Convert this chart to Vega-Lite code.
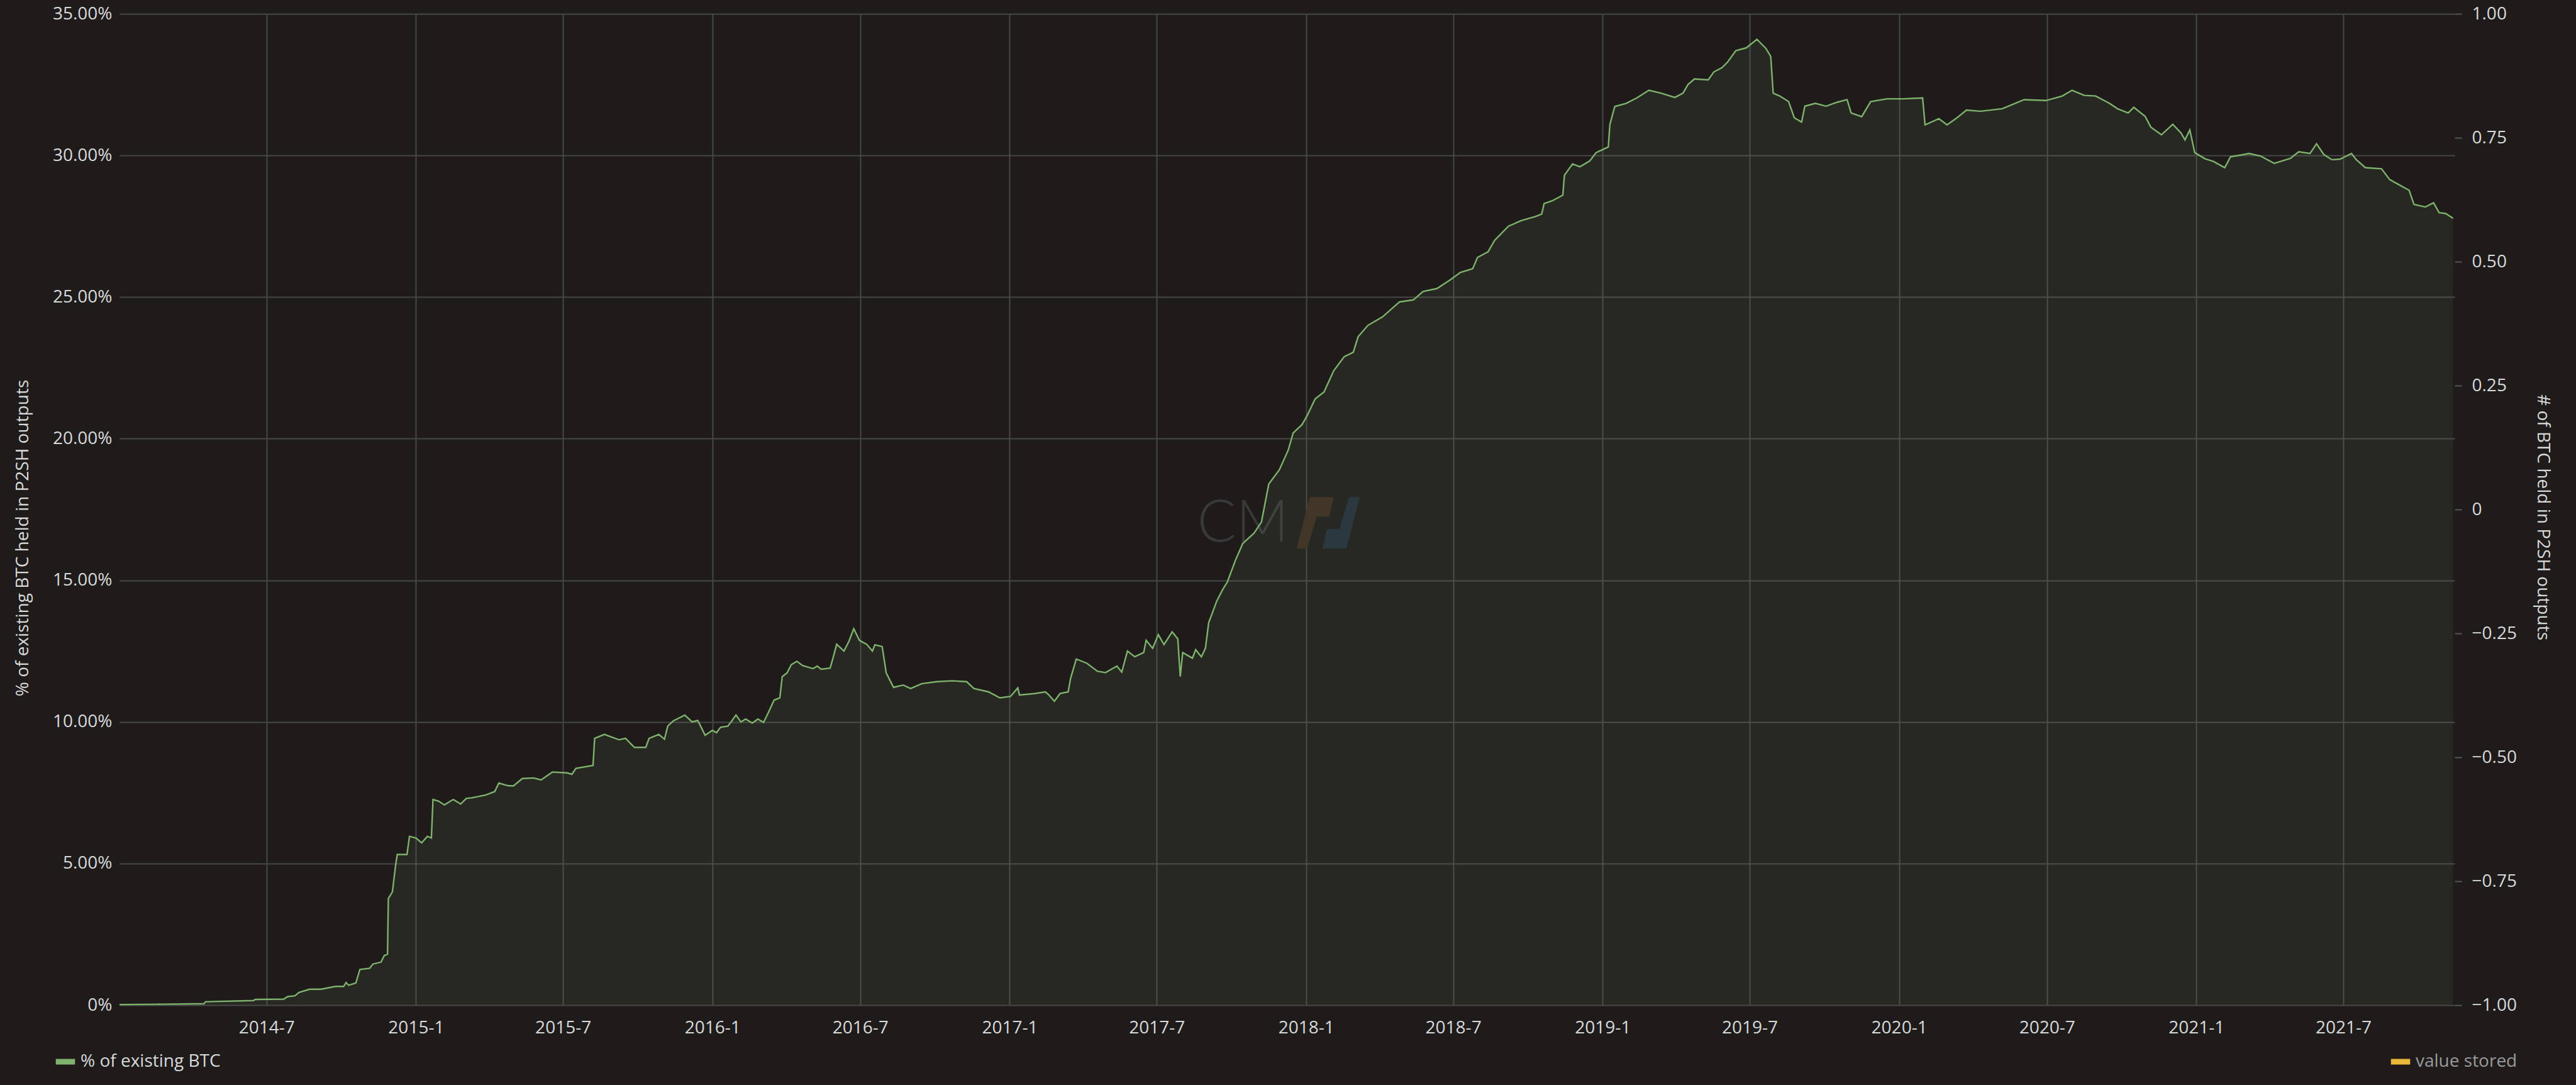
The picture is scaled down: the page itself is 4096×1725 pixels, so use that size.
{
  "$schema": "https://vega.github.io/schema/vega-lite/v6.json",
  "autosize": "none",
  "width": 3713,
  "height": 1576,
  "padding": {"left": 190, "top": 22, "right": 193, "bottom": 127},
  "background": "#1f1b1b",
  "config": {
    "font": "Open Sans",
    "view": {"stroke": null},
    "axis": {"labelFont": "Open Sans", "titleFont": "Open Sans", "labelColor": "#d8d9da", "titleColor": "#d8d9da", "titleFontWeight": "normal", "labelFontSize": 28, "titleFontSize": 28, "gridColor": "#474747", "gridWidth": 2},
    "legend": {"labelFont": "Open Sans", "labelFontSize": 28, "padding": 0, "labelLimit": 0}
  },
  "datasets": {
    "p2sh": [
      {"date": "2014-01-01", "pct": 0.02}, {"date": "2014-02-15", "pct": 0.03}, {"date": "2014-04-15", "pct": 0.05}, {"date": "2014-04-17", "pct": 0.12},
      {"date": "2014-06-15", "pct": 0.16}, {"date": "2014-06-17", "pct": 0.2}, {"date": "2014-07-22", "pct": 0.21}, {"date": "2014-07-27", "pct": 0.3},
      {"date": "2014-08-05", "pct": 0.33}, {"date": "2014-08-10", "pct": 0.45}, {"date": "2014-08-23", "pct": 0.56}, {"date": "2014-09-06", "pct": 0.56},
      {"date": "2014-09-24", "pct": 0.66}, {"date": "2014-10-04", "pct": 0.66}, {"date": "2014-10-07", "pct": 0.8}, {"date": "2014-10-10", "pct": 0.7},
      {"date": "2014-10-19", "pct": 0.78}, {"date": "2014-10-24", "pct": 1.26}, {"date": "2014-11-05", "pct": 1.3}, {"date": "2014-11-09", "pct": 1.45},
      {"date": "2014-11-19", "pct": 1.52}, {"date": "2014-11-23", "pct": 1.75}, {"date": "2014-11-27", "pct": 1.8}, {"date": "2014-11-28", "pct": 3.76},
      {"date": "2014-12-03", "pct": 4.0}, {"date": "2014-12-07", "pct": 4.95}, {"date": "2014-12-09", "pct": 5.32}, {"date": "2014-12-21", "pct": 5.32},
      {"date": "2014-12-24", "pct": 5.96}, {"date": "2015-01-01", "pct": 5.9}, {"date": "2015-01-08", "pct": 5.73}, {"date": "2015-01-15", "pct": 5.96},
      {"date": "2015-01-20", "pct": 5.9}, {"date": "2015-01-22", "pct": 7.26}, {"date": "2015-01-29", "pct": 7.2}, {"date": "2015-02-05", "pct": 7.07},
      {"date": "2015-02-16", "pct": 7.26}, {"date": "2015-02-25", "pct": 7.1}, {"date": "2015-03-04", "pct": 7.3}, {"date": "2015-03-11", "pct": 7.32},
      {"date": "2015-03-28", "pct": 7.42}, {"date": "2015-04-08", "pct": 7.54}, {"date": "2015-04-13", "pct": 7.84}, {"date": "2015-04-24", "pct": 7.75},
      {"date": "2015-05-01", "pct": 7.74}, {"date": "2015-05-12", "pct": 8.0}, {"date": "2015-05-26", "pct": 8.02}, {"date": "2015-06-04", "pct": 7.95},
      {"date": "2015-06-18", "pct": 8.23}, {"date": "2015-07-06", "pct": 8.2}, {"date": "2015-07-12", "pct": 8.15}, {"date": "2015-07-17", "pct": 8.36},
      {"date": "2015-08-07", "pct": 8.46}, {"date": "2015-08-09", "pct": 9.42}, {"date": "2015-08-21", "pct": 9.56}, {"date": "2015-09-08", "pct": 9.37},
      {"date": "2015-09-16", "pct": 9.42}, {"date": "2015-09-27", "pct": 9.1}, {"date": "2015-10-11", "pct": 9.1}, {"date": "2015-10-15", "pct": 9.42},
      {"date": "2015-10-27", "pct": 9.56}, {"date": "2015-11-03", "pct": 9.39}, {"date": "2015-11-07", "pct": 9.85}, {"date": "2015-11-14", "pct": 10.04},
      {"date": "2015-11-28", "pct": 10.24}, {"date": "2015-12-07", "pct": 10.0}, {"date": "2015-12-14", "pct": 10.05}, {"date": "2015-12-23", "pct": 9.53},
      {"date": "2016-01-01", "pct": 9.7}, {"date": "2016-01-06", "pct": 9.62}, {"date": "2016-01-11", "pct": 9.81}, {"date": "2016-01-20", "pct": 9.85},
      {"date": "2016-01-24", "pct": 10.0}, {"date": "2016-01-30", "pct": 10.24}, {"date": "2016-02-05", "pct": 10.0}, {"date": "2016-02-11", "pct": 10.1},
      {"date": "2016-02-19", "pct": 9.96}, {"date": "2016-02-26", "pct": 10.1}, {"date": "2016-03-04", "pct": 9.98}, {"date": "2016-03-10", "pct": 10.34},
      {"date": "2016-03-17", "pct": 10.77}, {"date": "2016-03-24", "pct": 10.85}, {"date": "2016-03-27", "pct": 11.6}, {"date": "2016-04-02", "pct": 11.73},
      {"date": "2016-04-07", "pct": 12.02}, {"date": "2016-04-14", "pct": 12.14}, {"date": "2016-04-21", "pct": 11.99}, {"date": "2016-05-04", "pct": 11.88},
      {"date": "2016-05-09", "pct": 11.97}, {"date": "2016-05-14", "pct": 11.86}, {"date": "2016-05-25", "pct": 11.9}, {"date": "2016-05-29", "pct": 12.31},
      {"date": "2016-06-02", "pct": 12.74}, {"date": "2016-06-11", "pct": 12.5}, {"date": "2016-06-17", "pct": 12.84}, {"date": "2016-06-23", "pct": 13.29},
      {"date": "2016-06-30", "pct": 12.88}, {"date": "2016-07-09", "pct": 12.74}, {"date": "2016-07-16", "pct": 12.5}, {"date": "2016-07-19", "pct": 12.72},
      {"date": "2016-07-28", "pct": 12.66}, {"date": "2016-08-02", "pct": 11.73}, {"date": "2016-08-11", "pct": 11.22}, {"date": "2016-08-23", "pct": 11.3},
      {"date": "2016-09-01", "pct": 11.18}, {"date": "2016-09-15", "pct": 11.35}, {"date": "2016-10-03", "pct": 11.42}, {"date": "2016-10-22", "pct": 11.45},
      {"date": "2016-11-09", "pct": 11.42}, {"date": "2016-11-18", "pct": 11.18}, {"date": "2016-12-06", "pct": 11.06}, {"date": "2016-12-20", "pct": 10.85},
      {"date": "2017-01-02", "pct": 10.9}, {"date": "2017-01-11", "pct": 11.2}, {"date": "2017-01-13", "pct": 10.95}, {"date": "2017-01-31", "pct": 11.0},
      {"date": "2017-02-14", "pct": 11.06}, {"date": "2017-02-18", "pct": 10.96}, {"date": "2017-02-25", "pct": 10.73}, {"date": "2017-03-04", "pct": 11.0},
      {"date": "2017-03-14", "pct": 11.06}, {"date": "2017-03-17", "pct": 11.54}, {"date": "2017-03-24", "pct": 12.22}, {"date": "2017-04-06", "pct": 12.07},
      {"date": "2017-04-19", "pct": 11.79}, {"date": "2017-04-29", "pct": 11.74}, {"date": "2017-05-13", "pct": 11.97}, {"date": "2017-05-19", "pct": 11.76},
      {"date": "2017-05-26", "pct": 12.5}, {"date": "2017-06-04", "pct": 12.3}, {"date": "2017-06-15", "pct": 12.45}, {"date": "2017-06-18", "pct": 12.88},
      {"date": "2017-06-26", "pct": 12.6}, {"date": "2017-07-03", "pct": 13.08}, {"date": "2017-07-10", "pct": 12.73}, {"date": "2017-07-20", "pct": 13.18},
      {"date": "2017-07-27", "pct": 12.93}, {"date": "2017-07-30", "pct": 11.6}, {"date": "2017-08-02", "pct": 12.45}, {"date": "2017-08-14", "pct": 12.25},
      {"date": "2017-08-18", "pct": 12.55}, {"date": "2017-08-25", "pct": 12.3}, {"date": "2017-08-30", "pct": 12.6}, {"date": "2017-09-03", "pct": 13.5},
      {"date": "2017-09-13", "pct": 14.27}, {"date": "2017-09-20", "pct": 14.66}, {"date": "2017-09-26", "pct": 14.94}, {"date": "2017-10-06", "pct": 15.71},
      {"date": "2017-10-15", "pct": 16.3}, {"date": "2017-10-29", "pct": 16.67}, {"date": "2017-11-07", "pct": 17.06}, {"date": "2017-11-16", "pct": 18.4},
      {"date": "2017-11-29", "pct": 18.9}, {"date": "2017-12-10", "pct": 19.6}, {"date": "2017-12-16", "pct": 20.2}, {"date": "2017-12-27", "pct": 20.5},
      {"date": "2018-01-02", "pct": 20.8}, {"date": "2018-01-12", "pct": 21.4}, {"date": "2018-01-23", "pct": 21.65}, {"date": "2018-02-04", "pct": 22.4},
      {"date": "2018-02-17", "pct": 22.9}, {"date": "2018-02-28", "pct": 23.05}, {"date": "2018-03-06", "pct": 23.6}, {"date": "2018-03-18", "pct": 24.0},
      {"date": "2018-04-05", "pct": 24.3}, {"date": "2018-04-26", "pct": 24.83}, {"date": "2018-05-13", "pct": 24.9}, {"date": "2018-05-25", "pct": 25.2},
      {"date": "2018-06-11", "pct": 25.3}, {"date": "2018-06-27", "pct": 25.6}, {"date": "2018-07-10", "pct": 25.87}, {"date": "2018-07-25", "pct": 26.0},
      {"date": "2018-07-31", "pct": 26.4}, {"date": "2018-08-13", "pct": 26.6}, {"date": "2018-08-21", "pct": 27.0}, {"date": "2018-09-07", "pct": 27.5},
      {"date": "2018-09-23", "pct": 27.7}, {"date": "2018-10-10", "pct": 27.84}, {"date": "2018-10-18", "pct": 27.93}, {"date": "2018-10-21", "pct": 28.3},
      {"date": "2018-10-31", "pct": 28.4}, {"date": "2018-11-13", "pct": 28.6}, {"date": "2018-11-15", "pct": 29.3}, {"date": "2018-11-25", "pct": 29.7},
      {"date": "2018-12-04", "pct": 29.6}, {"date": "2018-12-16", "pct": 29.8}, {"date": "2018-12-24", "pct": 30.1}, {"date": "2019-01-08", "pct": 30.3},
      {"date": "2019-01-10", "pct": 31.1}, {"date": "2019-01-16", "pct": 31.73}, {"date": "2019-01-30", "pct": 31.84}, {"date": "2019-02-12", "pct": 32.03},
      {"date": "2019-02-27", "pct": 32.3}, {"date": "2019-03-14", "pct": 32.2}, {"date": "2019-03-31", "pct": 32.05}, {"date": "2019-04-10", "pct": 32.2},
      {"date": "2019-04-16", "pct": 32.5}, {"date": "2019-04-24", "pct": 32.7}, {"date": "2019-05-11", "pct": 32.67}, {"date": "2019-05-18", "pct": 32.95},
      {"date": "2019-05-28", "pct": 33.1}, {"date": "2019-06-04", "pct": 33.3}, {"date": "2019-06-14", "pct": 33.7}, {"date": "2019-06-27", "pct": 33.8},
      {"date": "2019-07-10", "pct": 34.1}, {"date": "2019-07-21", "pct": 33.78}, {"date": "2019-07-27", "pct": 33.5}, {"date": "2019-07-30", "pct": 32.2},
      {"date": "2019-08-07", "pct": 32.1}, {"date": "2019-08-18", "pct": 31.9}, {"date": "2019-08-25", "pct": 31.33}, {"date": "2019-09-03", "pct": 31.18},
      {"date": "2019-09-07", "pct": 31.74}, {"date": "2019-09-20", "pct": 31.84}, {"date": "2019-10-03", "pct": 31.74}, {"date": "2019-10-17", "pct": 31.88},
      {"date": "2019-10-29", "pct": 31.97}, {"date": "2019-11-03", "pct": 31.5}, {"date": "2019-11-16", "pct": 31.37}, {"date": "2019-11-27", "pct": 31.9},
      {"date": "2019-12-17", "pct": 32.0}, {"date": "2020-01-06", "pct": 32.0}, {"date": "2020-01-30", "pct": 32.03}, {"date": "2020-02-02", "pct": 31.08},
      {"date": "2020-02-19", "pct": 31.3}, {"date": "2020-02-29", "pct": 31.08}, {"date": "2020-03-11", "pct": 31.3}, {"date": "2020-03-24", "pct": 31.6},
      {"date": "2020-04-10", "pct": 31.56}, {"date": "2020-05-07", "pct": 31.65}, {"date": "2020-06-03", "pct": 31.97}, {"date": "2020-06-30", "pct": 31.94},
      {"date": "2020-07-20", "pct": 32.1}, {"date": "2020-08-01", "pct": 32.3}, {"date": "2020-08-16", "pct": 32.12}, {"date": "2020-08-30", "pct": 32.1},
      {"date": "2020-09-16", "pct": 31.84}, {"date": "2020-09-26", "pct": 31.65}, {"date": "2020-10-09", "pct": 31.5}, {"date": "2020-10-16", "pct": 31.7},
      {"date": "2020-10-30", "pct": 31.38}, {"date": "2020-11-06", "pct": 31.0}, {"date": "2020-11-19", "pct": 30.73}, {"date": "2020-12-03", "pct": 31.1},
      {"date": "2020-12-13", "pct": 30.8}, {"date": "2020-12-18", "pct": 30.55}, {"date": "2020-12-24", "pct": 30.9}, {"date": "2020-12-30", "pct": 30.1},
      {"date": "2021-01-12", "pct": 29.88}, {"date": "2021-01-22", "pct": 29.79}, {"date": "2021-02-05", "pct": 29.57}, {"date": "2021-02-12", "pct": 29.95},
      {"date": "2021-03-07", "pct": 30.07}, {"date": "2021-03-21", "pct": 29.98}, {"date": "2021-04-07", "pct": 29.72}, {"date": "2021-04-27", "pct": 29.9},
      {"date": "2021-05-07", "pct": 30.13}, {"date": "2021-05-21", "pct": 30.07}, {"date": "2021-05-29", "pct": 30.41}, {"date": "2021-06-07", "pct": 30.03},
      {"date": "2021-06-17", "pct": 29.85}, {"date": "2021-06-27", "pct": 29.87}, {"date": "2021-07-11", "pct": 30.07}, {"date": "2021-07-17", "pct": 29.85},
      {"date": "2021-07-28", "pct": 29.57}, {"date": "2021-08-17", "pct": 29.53}, {"date": "2021-08-27", "pct": 29.15}, {"date": "2021-09-06", "pct": 28.99},
      {"date": "2021-09-20", "pct": 28.77}, {"date": "2021-09-26", "pct": 28.27}, {"date": "2021-10-10", "pct": 28.18}, {"date": "2021-10-20", "pct": 28.33},
      {"date": "2021-10-27", "pct": 27.98}, {"date": "2021-11-04", "pct": 27.95}, {"date": "2021-11-13", "pct": 27.78}
    ],
    "stored": [{"date": "2021-11-13", "value": null}],
    "logoText": [{"date": "2017-10-12", "pct": 17.0, "text": "CM"}],
    "logoShapes": [{"date": "2018-01-12", "pct": 17.03, "part": "left"}, {"date": "2018-02-13", "pct": 17.03, "part": "right"}]
  },
  "encoding": {
    "x": {
      "field": "date", "type": "temporal",
      "scale": {"type": "utc", "domain": [{"year": 2014, "month": 1, "date": 1, "utc": true}, {"year": 2021, "month": 11, "date": 15, "utc": true}]},
      "axis": {
        "title": null, "grid": true, "ticks": false, "domain": false, "labelPadding": 22, "labelFlush": false,
        "values": [
          {"year": 2014, "month": 7, "date": 1, "utc": true}, {"year": 2015, "month": 1, "date": 1, "utc": true},
          {"year": 2015, "month": 7, "date": 1, "utc": true}, {"year": 2016, "month": 1, "date": 1, "utc": true},
          {"year": 2016, "month": 7, "date": 1, "utc": true}, {"year": 2017, "month": 1, "date": 1, "utc": true},
          {"year": 2017, "month": 7, "date": 1, "utc": true}, {"year": 2018, "month": 1, "date": 1, "utc": true},
          {"year": 2018, "month": 7, "date": 1, "utc": true}, {"year": 2019, "month": 1, "date": 1, "utc": true},
          {"year": 2019, "month": 7, "date": 1, "utc": true}, {"year": 2020, "month": 1, "date": 1, "utc": true},
          {"year": 2020, "month": 7, "date": 1, "utc": true}, {"year": 2021, "month": 1, "date": 1, "utc": true},
          {"year": 2021, "month": 7, "date": 1, "utc": true}
        ],
        "labelExpr": "utcFormat(datum.value, '%Y') + '-' + (utcmonth(datum.value) + 1)"
      }
    }
  },
  "layer": [
    {
      "encoding": {
        "y": {
          "field": "pct", "type": "quantitative",
          "scale": {"domain": [0, 35], "nice": false, "zero": false},
          "axis": {
            "title": "% of existing BTC held in P2SH outputs", "titleX": -154, "titleY": 833, "titleBaseline": "middle", "titleAngle": -90,
            "grid": true, "ticks": false, "domain": false, "labelPadding": 12,
            "values": [0, 5, 10, 15, 20, 25, 30, 35],
            "labelExpr": "datum.value == 0 ? '0%' : format(datum.value, '.2f') + '%'"
          }
        }
      },
      "layer": [
        {
          "data": {"name": "logoText"},
          "mark": {"type": "text", "font": "Lato", "fontSize": 92, "fontWeight": 300, "color": "#3a3939", "align": "center", "baseline": "middle", "dx": 4},
          "encoding": {"text": {"field": "text"}}
        },
        {
          "data": {"name": "logoShapes"},
          "transform": [{"filter": "datum.part == 'left'"}],
          "mark": {"type": "point", "filled": true, "opacity": 1, "strokeWidth": 0, "size": 6724, "color": "#3c2a22", "shape": "M-0.21,-1L0.72,-1L0.55,-0.24L0.07,-0.24L-0.31,1L-0.72,1Z"},
          "encoding": {}
        },
        {
          "data": {"name": "logoShapes"},
          "transform": [{"filter": "datum.part == 'right'"}],
          "mark": {"type": "point", "filled": true, "opacity": 1, "strokeWidth": 0, "size": 6724, "color": "#242c3c", "shape": "M0.21,1L-0.72,1L-0.55,0.24L-0.07,0.24L0.31,-1L0.72,-1Z"},
          "encoding": {}
        },
        {
          "data": {"name": "p2sh"},
          "mark": {"type": "area", "color": "#7EB26D", "fillOpacity": 0.09, "interpolate": "linear"},
          "encoding": {}
        },
        {
          "data": {"name": "p2sh"},
          "mark": {"type": "line", "strokeWidth": 2.4, "interpolate": "linear"},
          "encoding": {
            "color": {
              "datum": "% of existing BTC", "type": "nominal",
              "scale": {"domain": ["% of existing BTC"], "range": ["#7EB26D"]},
              "legend": {"title": null, "orient": "none", "legendX": -100, "legendY": 1652, "symbolType": "M-1.7,-0.5H1.7V0.5H-1.7Z", "symbolSize": 324, "symbolFillColor": "#7EB26D", "symbolStrokeWidth": 0, "symbolOpacity": 1, "labelOffset": 10, "labelColor": "#d8d9da"}
            }
          }
        }
      ]
    },
    {
      "data": {"name": "stored"},
      "mark": {"type": "line", "strokeWidth": 2.3},
      "encoding": {
        "y": {
          "field": "value", "type": "quantitative",
          "scale": {"domain": [-1, 1], "nice": false, "zero": false},
          "axis": {
            "orient": "right", "title": "# of BTC held in P2SH outputs", "titleX": 139, "titleY": 800, "titleBaseline": "middle", "titleAngle": 90,
            "grid": false, "domain": false, "ticks": true, "tickSize": 11, "tickWidth": 2, "tickColor": "#555555", "labelPadding": 16,
            "values": [-1, -0.75, -0.5, -0.25, 0, 0.25, 0.5, 0.75, 1],
            "labelExpr": "datum.value == 0 ? '0' : format(datum.value, '.2f')"
          }
        },
        "color": {
          "datum": "value stored", "type": "nominal",
          "scale": {"domain": ["value stored"], "range": ["#EAB839"]},
          "legend": {"title": null, "orient": "none", "legendX": 3613, "legendY": 1652, "symbolType": "M-1.7,-0.5H1.7V0.5H-1.7Z", "symbolSize": 324, "symbolFillColor": "#EAB839", "symbolStrokeWidth": 0, "symbolOpacity": 1, "labelOffset": 10, "labelColor": "#9a9a9a"}
        }
      }
    }
  ],
  "resolve": {"scale": {"y": "independent", "color": "independent"}, "axis": {"y": "independent"}, "legend": {"color": "independent"}}
}
